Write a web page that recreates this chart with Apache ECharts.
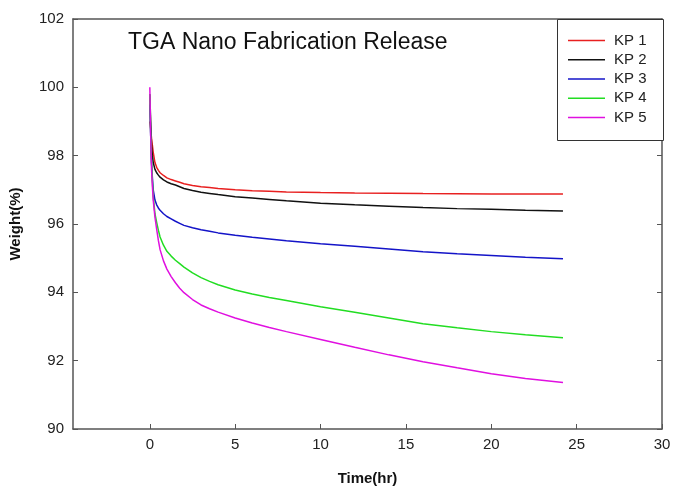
<!DOCTYPE html>
<html>
<head>
<meta charset="utf-8">
<script src="https://cdn.jsdelivr.net/npm/echarts@6/dist/echarts.min.js"></script>
<style>html,body{margin:0;padding:0;background:#fff}#c{width:677px;height:493px}</style>
</head>
<body>
<div id="c"></div>
<script>
var times = [0, 0.05, 0.1, 0.15, 0.2, 0.3, 0.4, 0.5, 0.6, 0.8, 1.0, 1.25, 1.5, 1.75, 2, 2.5, 3, 3.5, 4, 5, 6, 7, 8, 10, 12, 14, 16, 18, 20, 22, 24.2];
var kp1 = [99.0, 98.8, 98.5, 98.3, 98.1, 97.8, 97.66, 97.57, 97.5, 97.42, 97.35, 97.30, 97.26, 97.22, 97.18, 97.13, 97.09, 97.065, 97.04, 97.0, 96.97, 96.955, 96.94, 96.92, 96.905, 96.9, 96.89, 96.885, 96.88, 96.88, 96.88];
var kp2 = [99.8, 99.0, 98.3, 98.0, 97.8, 97.6, 97.5, 97.43, 97.37, 97.29, 97.23, 97.18, 97.14, 97.09, 97.04, 96.98, 96.93, 96.895, 96.86, 96.8, 96.76, 96.72, 96.68, 96.61, 96.56, 96.52, 96.48, 96.45, 96.43, 96.4, 96.38];
var kp3 = [99.5, 98.6, 97.8, 97.35, 97.0, 96.7, 96.56, 96.47, 96.4, 96.3, 96.22, 96.15, 96.08, 96.02, 95.96, 95.89, 95.83, 95.785, 95.74, 95.67, 95.61, 95.56, 95.51, 95.42, 95.35, 95.27, 95.19, 95.13, 95.08, 95.03, 94.98];
var kp4 = [99.8, 98.7, 97.8, 97.25, 96.8, 96.3, 96.05, 95.82, 95.62, 95.38, 95.2, 95.06, 94.94, 94.84, 94.74, 94.57, 94.43, 94.32, 94.22, 94.07, 93.95, 93.85, 93.76, 93.58, 93.42, 93.25, 93.08, 92.96, 92.85, 92.76, 92.67];
var kp5 = [100.0, 98.6, 97.6, 97.1, 96.7, 96.2, 95.85, 95.52, 95.25, 94.92, 94.68, 94.46, 94.28, 94.12, 93.99, 93.79, 93.63, 93.52, 93.42, 93.25, 93.1, 92.97, 92.85, 92.62, 92.39, 92.17, 91.97, 91.79, 91.62, 91.48, 91.36];
var seriesNames = ['KP 1', 'KP 2', 'KP 3', 'KP 4', 'KP 5'];
var xTicks = [0, 5, 10, 15, 20, 25, 30];
var titleText = 'TGA Nano Fabrication Release';
var xName = 'Time(hr)';
var yName = 'Weight(%)';

var colors = ['#e82020', '#111111', '#1414c8', '#22dd22', '#e010e0'];
var allData = [kp1, kp2, kp3, kp4, kp5];
function pairs(vals) { return times.map(function (t, i) { return [t, vals[i]]; }); }

var FONT = '"Liberation Sans", Arial, sans-serif';
var axisCol = '#555';

var chart = echarts.init(document.getElementById('c'), null, {renderer: 'canvas'});
chart.setOption({
  backgroundColor: '#fff',
  animation: false,
  title: {
    text: titleText, left: 128, top: 31, padding: 0,
    textStyle: {fontFamily: FONT, fontSize: 23, fontWeight: 'normal', color: '#111'}
  },
  graphic: [{
    type: 'rect', left: 557, top: 19, z: 50,
    shape: {width: 106, height: 121},
    style: {fill: '#fff', stroke: '#333', lineWidth: 1}
  }],
  legend: {
    orient: 'vertical', left: 568, top: 33, padding: 0, z: 60,
    icon: 'rect', itemWidth: 37, itemHeight: 1.5, itemGap: 4.25, itemTextGap: 9,
    textStyle: {fontFamily: FONT, fontSize: 15, lineHeight: 15, color: '#222', padding: [0, 0, 0, 4]},
    data: seriesNames
  },
  grid: {left: 73, right: 15, top: 19, bottom: 64, containLabel: false},
  xAxis: [{
    type: 'value', min: -4.5, max: 30, position: 'bottom',
    name: xName, nameLocation: 'middle', nameGap: 42,
    nameTextStyle: {fontFamily: FONT, fontSize: 15, fontWeight: 'bold', color: '#111'},
    axisLine: {show: true, onZero: false, lineStyle: {color: axisCol, width: 1.5}},
    axisTick: {show: true, inside: true, length: 5, customValues: xTicks, lineStyle: {color: axisCol}},
    axisLabel: {show: true, margin: 8, customValues: xTicks, fontFamily: FONT, fontSize: 15, color: '#222'},
    splitLine: {show: false}
  }, {
    type: 'value', min: -4.5, max: 30, position: 'top',
    axisLine: {show: true, onZero: false, lineStyle: {color: axisCol, width: 1.5}},
    axisTick: {show: false}, axisLabel: {show: false}, splitLine: {show: false}
  }],
  yAxis: [{
    type: 'value', min: 90, max: 102, interval: 2, position: 'left',
    name: yName, nameLocation: 'middle', nameGap: 50, nameRotate: 90,
    nameTextStyle: {fontFamily: FONT, fontSize: 15, fontWeight: 'bold', color: '#111'},
    axisLine: {show: true, onZero: false, lineStyle: {color: axisCol, width: 1.5}},
    axisTick: {show: true, inside: true, length: 5, lineStyle: {color: axisCol}},
    axisLabel: {margin: 9, fontFamily: FONT, fontSize: 15, color: '#222'},
    splitLine: {show: false}
  }, {
    type: 'value', min: 90, max: 102, interval: 2, position: 'right',
    axisLine: {show: true, onZero: false, lineStyle: {color: axisCol, width: 1.5}},
    axisTick: {show: true, inside: true, length: 5, lineStyle: {color: axisCol}},
    axisLabel: {show: false}, splitLine: {show: false}
  }],
  series: allData.map(function (vals, i) {
    return {
      name: seriesNames[i], type: 'line', data: pairs(vals),
      xAxisIndex: 0, yAxisIndex: 0,
      symbol: 'none', showSymbol: false, smooth: false,
      lineStyle: {color: colors[i], width: 1.5},
      itemStyle: {color: colors[i]}
    };
  })
});
</script>
</body>
</html>
